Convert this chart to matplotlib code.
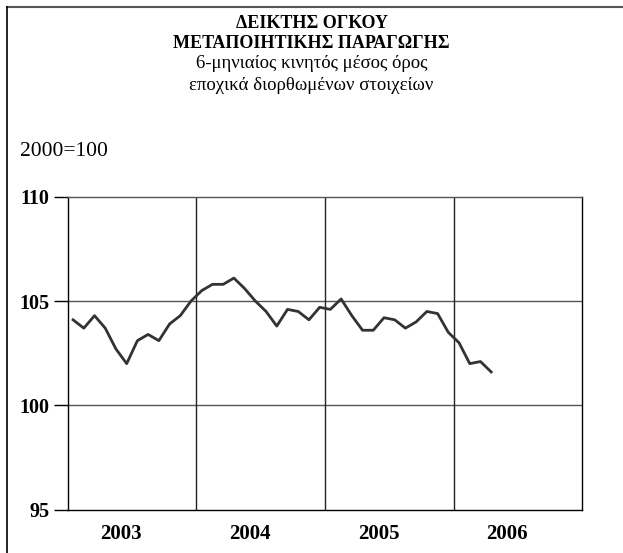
import matplotlib
matplotlib.use("Agg")
import matplotlib.pyplot as plt
from matplotlib.lines import Line2D

# 6-month moving average, monthly from Jan 2003
years = ["2003", "2004", "2005", "2006"]
values = [
    104.1, 103.7, 104.3, 103.7, 102.7, 102.0, 103.1, 103.4, 103.1, 103.9, 104.3, 105.0,
    105.5, 105.8, 105.8, 106.1, 105.6, 105.0, 104.5, 103.8, 104.6, 104.5, 104.1, 104.7,
    104.6, 105.1, 104.3, 103.6, 103.6, 104.2, 104.1, 103.7, 104.0, 104.5, 104.4, 103.5,
    103.0, 102.0, 102.1, 101.6,
]
yticks = [95, 100, 105, 110]

plt.rcParams['font.family'] = ['Liberation Serif', 'DejaVu Serif']

fig = plt.figure(figsize=(6.23, 5.53), dpi=100)
ax = fig.add_axes([0.1087, 0.0783, 0.826, 0.566])

x = [i + 0.5 for i in range(len(values))]
ax.plot(x, values, color='#333333', lw=2, zorder=3)

ax.set_xlim(0, 12 * len(years))
ax.set_ylim(95, 110)

# grid
for y in [100, 105]:
    ax.axhline(y, color='#555555', lw=1, zorder=1)
for k in range(1, len(years)):
    ax.axvline(12 * k, color='#222222', lw=1, zorder=1)

ax.set_yticks(yticks)
ax.set_yticklabels([str(t) for t in yticks], fontweight='bold', fontsize=14.5)
ax.tick_params(axis='y', direction='out', length=10, width=1, pad=3)
ax.set_xticks([12 * k + 5 for k in range(len(years))])
ax.set_xticklabels(years, fontweight='bold', fontsize=15)
ax.tick_params(axis='x', length=0, pad=10)

for s in ['left', 'bottom', 'right']:
    ax.spines[s].set_color('black')
    ax.spines[s].set_linewidth(1)
ax.spines['top'].set_color('#555555')
ax.spines['top'].set_linewidth(1)

# titles
fig.text(0.5, 1 - 23 / 553, 'ΔΕΙΚΤΗΣ ΟΓΚΟΥ', ha='center', va='center',
         fontsize=13, fontweight='bold')
fig.text(0.5, 1 - 43 / 553, 'ΜΕΤΑΠΟΙΗΤΙΚΗΣ ΠΑΡΑΓΩΓΗΣ', ha='center', va='center',
         fontsize=13, fontweight='bold')
fig.text(0.5, 1 - 64 / 553, '6-μηνιαίος κινητός μέσος όρος', ha='center', va='center',
         fontsize=13.5)
fig.text(0.5, 1 - 86 / 553, 'εποχικά διορθωμένων στοιχείων', ha='center', va='center',
         fontsize=13.5)
fig.text(20 / 623, 1 - 151 / 553, '2000=100', ha='left', va='center', fontsize=15.5)

# outer frame (top and left edges visible)
fig.add_artist(Line2D([7 / 623, 1], [1 - 7 / 553, 1 - 7 / 553],
                      transform=fig.transFigure, color='#555555', lw=1.5))
fig.add_artist(Line2D([7 / 623, 7 / 623], [0, 1 - 7 / 553],
                      transform=fig.transFigure, color='black', lw=1.2))

fig.savefig('out.png', dpi=100)
